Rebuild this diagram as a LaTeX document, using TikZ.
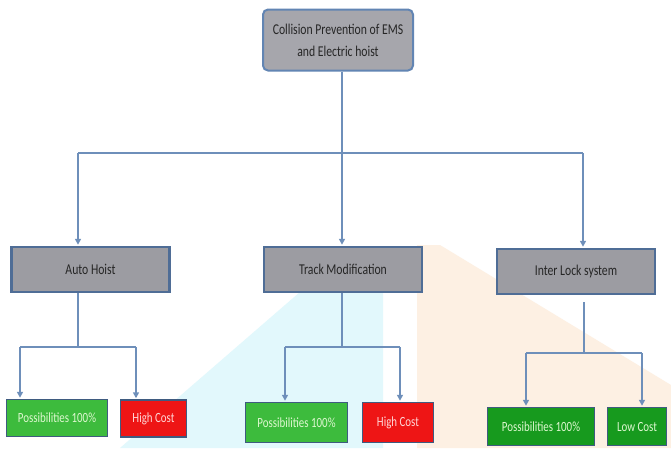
\documentclass[tikz,border=0pt]{standalone}
\usepackage{fontspec}
\setmainfont{Carlito}
\usetikzlibrary{arrows.meta}
\definecolor{conncol}{HTML}{6E8FBA}
\definecolor{boxfill}{HTML}{9C9CA2}
\definecolor{boxline}{HTML}{4F6D96}
\definecolor{topfill}{HTML}{A6A6AC}
\definecolor{topline}{HTML}{6285B3}
\definecolor{leafgreen}{HTML}{3DBB3D}
\definecolor{leafdkgreen}{HTML}{179A1E}
\definecolor{leafred}{HTML}{EE1515}
\definecolor{leafline}{HTML}{3F5B80}
\definecolor{greentext}{HTML}{DDF7CF}
\definecolor{redtext}{HTML}{FFD6D6}
\definecolor{wmcyan}{HTML}{E2F8FC}
\definecolor{wmorange}{HTML}{FDF0E3}
\newcommand{\sq}[1]{\scalebox{0.78}[1]{#1}}
\tikzset{
  topbox/.style={draw=topline, line width=2pt, fill=topfill, rounded corners=5pt,
    minimum width=150pt, minimum height=61pt, align=center, font=\fontsize{15}{22}\selectfont, text=black!85},
  midbox/.style={draw=boxline, line width=2.5pt, fill=boxfill,
    minimum width=158pt, minimum height=45pt, font=\fontsize{15}{17}\selectfont, text=black!85},
  leafbox/.style={draw=leafline, line width=1.5pt, minimum height=37pt, inner sep=2pt,
    font=\fontsize{14}{16}\selectfont},
  greenleaf/.style={leafbox, fill=leafgreen, text=greentext},
  dkgreenleaf/.style={leafbox, fill=leafdkgreen, text=greentext},
  redleaf/.style={leafbox, fill=leafred, text=redtext},
  conn/.style={draw=conncol, line width=2pt},
  arr/.style={conn, -{Triangle[length=6pt,width=6pt]}, shorten >=1pt}
}
\begin{document}
\begin{tikzpicture}[x=1pt,y=-1pt]
\fill[white] (0,0) rectangle (671,448);
\useasboundingbox (0,0) rectangle (671,448);
% faint watermark in the background
\fill[wmcyan] (120,448) -- (300,292) -- (383,292) -- (383,448) -- cycle;
\fill[wmorange] (417,245) -- (440,245) -- (671,385) -- (671,448) -- (417,448) -- cycle;

% nodes
\node[topbox] (top) at (338,40) {\sq{Collision Prevention of EMS}\\\sq{and Electric hoist}};
\node[midbox] (auto) at (90.5,269.5) {\sq{Auto Hoist}};
\node[midbox] (track) at (343,269.5) {\sq{Track Modification}};
\node[midbox] (inter) at (576,271.5) {\sq{Inter Lock system}};

\node[greenleaf, minimum width=101pt] (p1) at (57,418) {\sq{Possibilities 100\%}};
\node[redleaf, minimum width=66pt] (h1) at (153.5,418.5) {\sq{High Cost}};
\node[greenleaf, minimum width=102pt, minimum height=40pt] (p2) at (296.5,422.5) {\sq{Possibilities 100\%}};
\node[redleaf, minimum width=71pt, minimum height=40pt] (h2) at (398,422.5) {\sq{High Cost}};
\node[dkgreenleaf, minimum width=107pt, minimum height=38pt] (p3) at (541,426.5) {\sq{Possibilities 100\%}};
\node[dkgreenleaf, minimum width=59pt, minimum height=38pt] (l3) at (637,426.5) {\sq{Low Cost}};

% junctions
\coordinate (j0) at (342,153);
\coordinate (jL) at (78,153);
\coordinate (jR) at (583,153);
\coordinate (a0) at (78,347);
\coordinate (aL) at (20,347);
\coordinate (aR) at (136,347);
\coordinate (t0) at (342,347);
\coordinate (tL) at (285,347);
\coordinate (tR) at (400,347);
\coordinate (i0) at (584,353);
\coordinate (iL) at (526,353);
\coordinate (iR) at (642,353);
\coordinate (i1) at (584,302);

% top level connectors
\draw[conn] (j0 |- top.south) -- (j0);
\draw[conn] (jL) -- (jR);
\draw[arr] (jL) -- (jL |- auto.north);
\draw[arr] (j0) -- (j0 |- track.north);
\draw[arr] (jR) -- (jR |- inter.north);

% Auto Hoist branch
\draw[conn] (a0 |- auto.south) -- (a0);
\draw[conn] (aL) -- (aR);
\draw[arr] (aL) -- (aL |- p1.north);
\draw[arr] (aR) -- (aR |- h1.north);

% Track Modification branch
\draw[conn] (t0 |- track.south) -- (t0);
\draw[conn] (tL) -- (tR);
\draw[arr] (tL) -- (tL |- p2.north);
\draw[arr] (tR) -- (tR |- h2.north);

% Inter Lock branch
\draw[conn] (i1) -- (i0);
\draw[conn] (iL) -- (iR);
\draw[arr] (iL) -- (iL |- p3.north);
\draw[arr] (iR) -- (iR |- l3.north);
\end{tikzpicture}
\end{document}
